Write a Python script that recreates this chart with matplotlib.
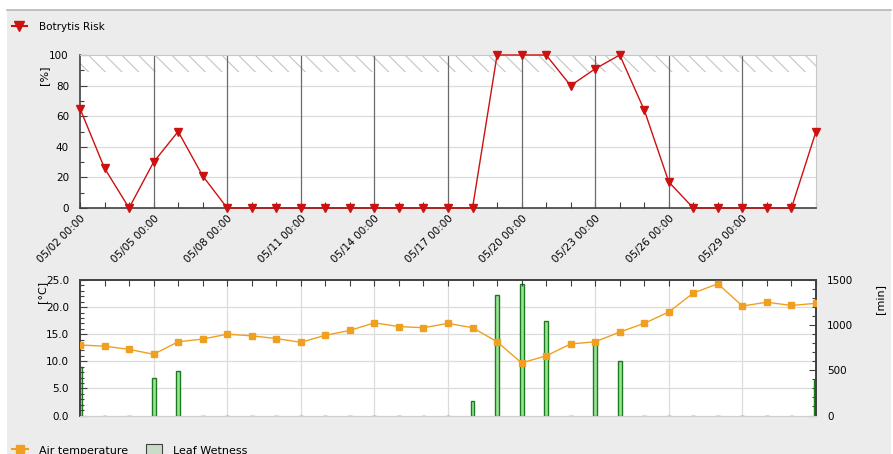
import matplotlib
matplotlib.use("Agg")
import matplotlib.pyplot as plt
import matplotlib.dates as mdates
from matplotlib.lines import Line2D
from matplotlib.patches import Rectangle, Patch
from matplotlib.ticker import MultipleLocator, FormatStrFormatter
import pandas as pd

# Daily observations, 05/02 through 06/01
dates = pd.date_range("2024-05-02", periods=31, freq="D")

botrytis_risk = [65, 26, 0, 30, 50, 21, 0, 0, 0, 0, 0, 0, 0, 0, 0, 0, 0,
                 100, 100, 100, 80, 91, 100, 64, 17, 0, 0, 0, 0, 0, 50]

air_temperature = [13.0, 12.8, 12.2, 11.3, 13.6, 14.1, 15.0, 14.7, 14.2, 13.5,
                   14.8, 15.7, 17.1, 16.4, 16.2, 17.0, 16.2, 13.6, 9.7, 11.0,
                   13.2, 13.6, 15.4, 17.0, 19.1, 22.6, 24.3, 20.2, 20.9, 20.3, 20.7]

leaf_wetness = [540, 0, 0, 410, 490, 0, 0, 0, 0, 0, 0, 0, 0, 0, 0, 0,
                160, 1330, 1460, 1050, 0, 830, 600, 0, 0, 0, 0, 0, 0, 0, 390]

risk_threshold = 89

W, H = 893, 454
fig = plt.figure(figsize=(W / 100, H / 100), dpi=100, facecolor="white")
plt.rcParams["font.family"] = ["DejaVu Sans"]
plt.rcParams["hatch.linewidth"] = 0.8

# panel background with top border line
fig.patches.append(Rectangle((7 / W, 0), (891 - 7) / W, 1 - 10 / H,
                             transform=fig.transFigure, facecolor="#ececec",
                             edgecolor="none", zorder=-10))
fig.lines.append(Line2D([7 / W, 891 / W], [1 - 10 / H, 1 - 10 / H],
                        transform=fig.transFigure, color="#b8b8b8", lw=1.2))

left, right = 80 / W, 816 / W
ax1 = fig.add_axes([left, 1 - 208 / H, right - left, (208 - 55) / H])
ax2 = fig.add_axes([left, 1 - 415.5 / H, right - left, (415.5 - 280) / H])

FS = 7.5
red = "#cc1111"
orange = "#f0a020"

major_days = mdates.DayLocator(bymonthday=[2, 5, 8, 11, 14, 17, 20, 23, 26, 29])
xmin, xmax = dates[0], dates[-1]

# ---------- top panel: Botrytis risk ----------
ax1.set_facecolor("white")
ax1.fill_between([xmin, xmax], risk_threshold, 100, facecolor="none",
                 edgecolor="#c4c4c4", hatch="\\\\", linewidth=0, zorder=1)
for y in [20, 40, 60, 80]:
    ax1.axhline(y, color="#dcdcdc", lw=0.9, zorder=1)
for d in dates[3::3]:
    if d < xmax:
        ax1.axvline(d, color="#6a6a6a", lw=0.9, zorder=2)
ax1.plot(dates, botrytis_risk, color=red, lw=1.0, marker="v", markersize=5.5,
         markerfacecolor=red, markeredgecolor=red, zorder=5, clip_on=False)
ax1.set_xlim(xmin, xmax)
ax1.set_ylim(0, 100)
ax1.yaxis.set_major_locator(MultipleLocator(20))
ax1.yaxis.set_minor_locator(MultipleLocator(10))
ax1.xaxis.set_major_locator(major_days)
ax1.xaxis.set_minor_locator(mdates.DayLocator())
ax1.xaxis.set_major_formatter(mdates.DateFormatter("%m/%d %H:%M"))
ax1.tick_params(axis="x", which="both", direction="in", length=4, width=0.8,
                labelsize=FS, pad=4, color="#404040")
ax1.tick_params(axis="y", which="major", direction="in", length=5, width=0.8,
                labelsize=FS, color="#404040", pad=8)
ax1.tick_params(axis="y", which="minor", direction="in", length=3, width=0.8,
                color="#404040")
for lab in ax1.get_xticklabels():
    lab.set_rotation(45)
    lab.set_ha("right")
    lab.set_rotation_mode("anchor")
for s in ["top", "right"]:
    ax1.spines[s].set_color("#c8c8c8")
for s in ["left", "bottom"]:
    ax1.spines[s].set_color("#404040")
    ax1.spines[s].set_linewidth(1.2)
ax1.set_ylabel("[%]", fontsize=FS + 0.5)
ax1.yaxis.set_label_coords(-0.042, 0.87)

# ---------- bottom panel: air temperature and leaf wetness ----------
ax3 = ax2.twinx()
ax3.patch.set_visible(True)
ax3.set_facecolor("white")
ax2.set_zorder(ax3.get_zorder() + 1)
ax2.patch.set_visible(False)

for y in [5, 10, 15, 20]:
    ax3.axhline(y * 60, color="#dcdcdc", lw=0.9, zorder=0)
for d in dates[3::3]:
    if d < xmax:
        ax3.axvline(d, color="#dcdcdc", lw=0.9, zorder=0)

ax3.bar(dates, leaf_wetness, width=0.16, color="#98e698", edgecolor="#1e7a1e",
        linewidth=1.0, zorder=2)
ax3.set_ylim(0, 1500)
ax3.yaxis.set_major_locator(MultipleLocator(500))
ax3.yaxis.set_minor_locator(MultipleLocator(100))
ax3.tick_params(axis="y", which="major", direction="in", length=5, width=0.8,
                labelsize=FS, color="#404040", pad=8)
ax3.tick_params(axis="y", which="minor", direction="in", length=3, width=0.8,
                color="#404040")
ax3.set_ylabel("[min]", fontsize=FS + 0.5)
ax3.yaxis.set_label_coords(1.08, 0.86)

ax2.plot(dates, air_temperature, color=orange, lw=1.0, marker="s",
         markersize=4.5, markerfacecolor=orange, markeredgecolor=orange,
         zorder=5)
ax2.set_xlim(xmin, xmax)
ax2.set_ylim(0, 25)
ax2.yaxis.set_major_locator(MultipleLocator(5))
ax2.yaxis.set_minor_locator(MultipleLocator(1))
ax2.yaxis.set_major_formatter(FormatStrFormatter("%.1f"))
ax2.xaxis.set_major_locator(major_days)
ax2.xaxis.set_minor_locator(mdates.DayLocator())
ax2.tick_params(axis="x", which="both", direction="in", length=4, width=0.8,
                top=True, bottom=False, labelbottom=False, color="#404040")
ax2.tick_params(axis="y", which="major", direction="in", length=5, width=0.8,
                labelsize=FS, color="#404040", pad=8)
ax2.tick_params(axis="y", which="minor", direction="in", length=3, width=0.8,
                color="#404040")
ax2.set_ylabel("[°C]", fontsize=FS + 0.5)
ax2.yaxis.set_label_coords(-0.045, 0.915)

for a in (ax2, ax3):
    a.spines["bottom"].set_color("#d0d0d0")
    for s in ["top", "left", "right"]:
        a.spines[s].set_color("#404040")
        a.spines[s].set_linewidth(1.2)

# ---------- legends ----------
risk_handle = Line2D([], [], color=red, lw=1.5, marker="v", markersize=7)
fig.legend([risk_handle], ["Botrytis Risk"], loc="center left",
           bbox_to_anchor=(8 / W, 1 - 27 / H), frameon=False, fontsize=FS,
           handlelength=1.4, handletextpad=1.2, borderaxespad=0)

temp_handle = Line2D([], [], color=orange, lw=1.5, marker="s", markersize=6)
wet_handle = Patch(facecolor="#c8dcc8", edgecolor="#404040", linewidth=0.8)
fig.legend([temp_handle, wet_handle], ["Air temperature", "Leaf Wetness"],
           loc="center left", bbox_to_anchor=(8 / W, 1 - 450 / H), ncol=2,
           frameon=False, fontsize=FS + 0.5, handlelength=1.4,
           handleheight=1.1, handletextpad=1.0, columnspacing=1.6,
           borderaxespad=0)

fig.savefig("out.png", dpi=100, facecolor=fig.get_facecolor())
